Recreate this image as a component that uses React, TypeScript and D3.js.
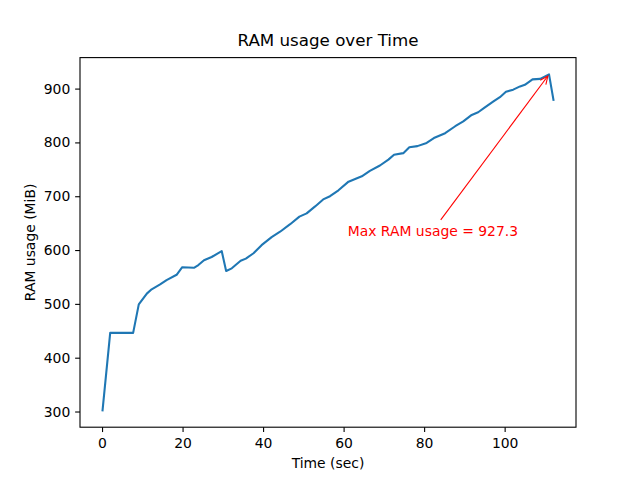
import React from "react";
import * as d3 from "d3";

const times = [0, 1.9, 7.6, 9.0, 11.0, 12.2, 14.3, 15.9, 18.4, 19.8, 22.7, 23.8, 25.2, 27.1, 29.6, 30.7, 32.1, 34.3, 35.6, 37.5, 39.5, 42.0, 44.1, 46.6, 48.9, 50.7, 52.8, 54.8, 56.5, 58.6, 61.1, 64.4, 66.4, 68.9, 71.0, 72.4, 74.7, 76.2, 78.2, 80.5, 82.3, 85.1, 87.6, 89.6, 91.7, 93.3, 94.8, 97.1, 98.7, 100.2, 102.0, 103.7, 104.9, 106.8, 108.7, 110.9, 112.0];
const ram = [303, 447, 447, 500, 520, 528, 537, 545, 555, 569, 568, 573, 582, 588, 599, 562, 567, 581, 585, 595, 610, 625, 635, 649, 663, 669, 682, 695, 701, 712, 728, 738, 748, 758, 769, 778, 781, 792, 794, 800, 809, 818, 831, 840, 852, 857, 865, 877, 885, 895, 899, 905, 908, 918, 919, 927.3, 880];
const xTicks = [0, 20, 40, 60, 80, 100];
const yTicks = [300, 400, 500, 600, 700, 800, 900];

const title = "RAM usage over Time";
const xLabel = "Time (sec)";
const yLabel = "RAM usage (MiB)";

const W = 640, H = 480;
const left = 80, right = 576, top = 57.6, bottom = 427.2;
const FONT = "DejaVu Sans, sans-serif";

export default function App() {
  const xMin = d3.min(times)!, xMax = d3.max(times)!;
  const yMin = d3.min(ram)!, yMax = d3.max(ram)!;
  const xPad = (xMax - xMin) * 0.05, yPad = (yMax - yMin) * 0.05;
  const x = d3.scaleLinear().domain([xMin - xPad, xMax + xPad]).range([left, right]);
  const y = d3.scaleLinear().domain([yMin - yPad, yMax + yPad]).range([bottom, top]);
  const data = times.map((t, i) => [t, ram[i]] as [number, number]);
  const line = d3.line<[number, number]>().x(d => x(d[0])).y(d => y(d[1]));

  const maxIdx = d3.maxIndex(ram);
  const maxT = times[maxIdx], maxV = ram[maxIdx];
  const label = `Max RAM usage = ${maxV.toFixed(1)}`;
  const txX = x(maxT - 50), txY = y(maxV - 300);
  // arrow from text bbox top-center to the max point
  const ax0 = txX + 93, ay0 = txY - 16;
  const ax1 = x(maxT), ay1 = y(maxV);
  const dx = ax1 - ax0, dy = ay1 - ay0;
  const len = Math.hypot(dx, dy);
  const ux = dx / len, uy = dy / len;
  const tipX = ax1 - ux * 2, tipY = ay1 - uy * 2;
  const hl = 8, hw = 3.5;
  const h1x = tipX - ux * hl - uy * hw, h1y = tipY - uy * hl + ux * hw;
  const h2x = tipX - ux * hl + uy * hw, h2y = tipY - uy * hl - ux * hw;

  return (
    <svg width={W} height={H} style={{ display: "block", position: "absolute", left: 0, top: 0 }} fontFamily={FONT}>
      <rect x={0} y={0} width={W} height={H} fill="white" />
      <path d={line(data)!} fill="none" stroke="#1f77b4" strokeWidth={2.08} strokeLinejoin="round" strokeLinecap="square" />
      <text x={txX} y={txY} fontSize={13.9} fill="red">{label}</text>
      <line x1={ax0} y1={ay0} x2={tipX} y2={tipY} stroke="red" strokeWidth={1.1} />
      <path d={`M${h1x},${h1y} L${tipX},${tipY} L${h2x},${h2y}`} fill="none" stroke="red" strokeWidth={1.1} />
      <rect x={left} y={top} width={right - left} height={bottom - top} fill="none" stroke="black" strokeWidth={1.1} />
      {xTicks.map(t => (
        <g key={"x" + t}>
          <line x1={x(t)} x2={x(t)} y1={bottom} y2={bottom + 4.86} stroke="black" strokeWidth={1.1} />
          <text x={x(t)} y={447.5} fontSize={13.9} textAnchor="middle" fill="black">{t}</text>
        </g>
      ))}
      {yTicks.map(t => (
        <g key={"y" + t}>
          <line x1={left - 4.86} x2={left} y1={y(t)} y2={y(t)} stroke="black" strokeWidth={1.1} />
          <text x={70.3} y={y(t) + 4.5} fontSize={13.9} textAnchor="end" fill="black">{t}</text>
        </g>
      ))}
      <text x={(left + right) / 2} y={467.5} fontSize={13.9} textAnchor="middle" fill="black">{xLabel}</text>
      <text transform={`translate(35,${(top + bottom) / 2}) rotate(-90)`} fontSize={13.9} textAnchor="middle" fill="black">{yLabel}</text>
      <text x={(left + right) / 2} y={46} fontSize={16.7} textAnchor="middle" fill="black">{title}</text>
    </svg>
  );
}
